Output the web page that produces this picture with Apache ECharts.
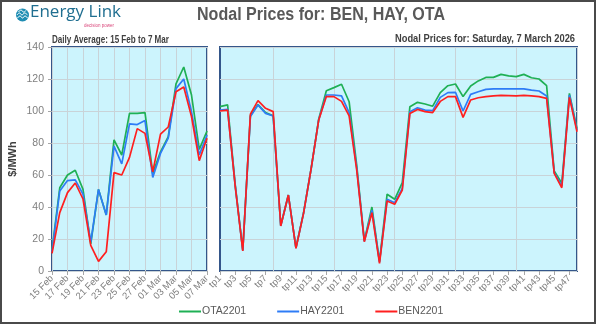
<!DOCTYPE html>
<html><head><meta charset="utf-8">
<script src="https://cdn.jsdelivr.net/npm/echarts@6/dist/echarts.min.js"></script>
<style>html,body{margin:0;padding:0;background:#fff}#c{width:600px;height:326px}</style>
</head><body><div id="c"></div>
<script>
const days = ['15 Feb','16 Feb','17 Feb','18 Feb','19 Feb','20 Feb','21 Feb','22 Feb','23 Feb','24 Feb','25 Feb','26 Feb','27 Feb','28 Feb','01 Mar','02 Mar','03 Mar','04 Mar','05 Mar','06 Mar','07 Mar'];
const dailyOTA = [13, 52, 60, 63, 51, 17, 51, 35, 82, 72.5, 98.5, 98.5, 99, 61, 74.5, 84, 117, 127.5, 110, 76, 87.5];
const dailyHAY = [12, 50, 56.5, 57, 48, 18, 51, 35, 78, 67, 92, 91.5, 94, 58.5, 73.5, 83, 114, 120, 99.5, 72.5, 85];
const dailyBEN = [11, 36.5, 49, 55, 45, 16, 6, 12, 61.5, 60, 71, 89, 86, 62, 85.5, 90, 112, 115, 96.5, 69, 83];

const periods = ['tp1','tp2','tp3','tp4','tp5','tp6','tp7','tp8','tp9','tp10','tp11','tp12','tp13','tp14','tp15','tp16','tp17','tp18','tp19','tp20','tp21','tp22','tp23','tp24','tp25','tp26','tp27','tp28','tp29','tp30','tp31','tp32','tp33','tp34','tp35','tp36','tp37','tp38','tp39','tp40','tp41','tp42','tp43','tp44','tp45','tp46','tp47','tp48'];
const tpOTA = [102.7, 103.8, 54, 13, 97, 104, 99, 97, 28.5, 47.5, 14.5, 36.5, 64, 95, 112.7, 114.6, 116.7, 105.8, 66, 19, 40, 6, 48, 44.8, 55.2, 102.7, 105.4, 104.4, 103, 111.5, 115.8, 116.9, 109, 115.6, 118.8, 121, 121, 122.9, 122, 121.5, 122.9, 120.8, 120, 115.8, 62.5, 54.8, 111, 89];
const tpHAY = [100.6, 101, 53.5, 12.8, 96.5, 103.8, 98.5, 96.9, 28.3, 47.5, 14.3, 36.2, 64, 94.6, 110, 110, 109.4, 99, 64.5, 18.5, 38, 5.5, 44.8, 42.7, 51.7, 99.6, 102, 100.6, 100.2, 108.5, 111.5, 111.7, 100, 110.4, 112, 113.5, 113.8, 113.8, 113.8, 113.8, 113.8, 113, 112.5, 109.4, 61.5, 53, 110, 88];
const tpBEN = [100, 100.6, 53, 12.5, 98, 106.5, 101.7, 99.6, 28.1, 47.5, 14.2, 36, 64, 94.4, 109, 109, 106, 96.9, 63, 18.3, 36.5, 4.8, 43.8, 41.7, 50.6, 98.5, 101, 99.6, 99, 106, 109, 109, 96, 106.9, 108.3, 109, 109.4, 109.8, 109.6, 109.4, 109.8, 109.4, 109, 107.9, 61, 52, 108.5, 87];

const seriesNames = ['OTA2201','HAY2201','BEN2201'];
const colors = ['#1fb055','#2e7cf6','#ff1f1f'];

const FONT = "'Liberation Sans', Arial, sans-serif";
const gridStyle = {show:true, backgroundColor:'#ccf4fd', borderColor:'#34568a', borderWidth:2};

// condensed text helper: scale horizontally to a target width
const mctx = document.createElement('canvas').getContext('2d');
function fitText(text, x, y, size, targetW, color, align){
  const font = 'bold ' + size + 'px ' + FONT;
  mctx.font = font;
  const w = mctx.measureText(text).width;
  const s = targetW / w;
  return {type:'text', x:x, y:y, scaleX:s, originX:0, z:50,
    style:{text:text, font:font, fill:color, textAlign:align || 'left', textVerticalAlign:'top'}};
}

function xAxis(idx, data, splitInt){
  return {type:'category', gridIndex:idx, data:data, boundaryGap:false,
    axisLine:{show:false},
    axisTick:{show:true, interval:1, length:4, lineStyle:{color:'#a6a6a6'}},
    axisLabel:{interval:1, rotate:45, fontSize:9.5, color:'#7f7f7f', fontFamily:FONT, margin:6},
    splitLine:{show:true, interval:splitInt, lineStyle:{color:'#c9d3d8', width:1}}};
}
function yAxis(idx, labels){
  return {type:'value', gridIndex:idx, min:0, max:140, interval:20,
    axisLine:{show:false},
    axisTick:{show:labels, length:4, lineStyle:{color:'#a6a6a6'}},
    axisLabel:{show:labels, fontSize:10.5, color:'#7f7f7f', fontFamily:FONT, margin:8},
    splitLine:{show:true, lineStyle:{color:'#c9d3d8', width:1}},
    name: labels ? '$/MWh' : '', nameLocation:'middle', nameGap:34,
    nameTextStyle:{fontSize:11, fontWeight:'bold', color:'#404040', fontFamily:FONT}};
}
const series = [];
[[dailyOTA,dailyHAY,dailyBEN],[tpOTA,tpHAY,tpBEN]].forEach((set, gi) => {
  set.forEach((d, i) => {
    series.push({name:seriesNames[i], type:'line', xAxisIndex:gi, yAxisIndex:gi, data:d,
      symbol:'none', lineStyle:{width:1.7, color:colors[i]}, itemStyle:{color:colors[i]}, animation:false});
  });
});

const chart = echarts.init(document.getElementById('c'), null, {renderer:'canvas'});
chart.setOption({
  backgroundColor:'#ffffff',
  animation:false,
  legend:{data:seriesNames, left:174, top:301, itemWidth:22, itemHeight:2, itemGap:31, icon:'rect',
    textStyle:{fontSize:10.5, color:'#595959', fontFamily:FONT, padding:[0,0,0,-4]}},
  grid:[
    Object.assign({left:52, top:47, width:155, height:224}, gridStyle),
    Object.assign({left:220, top:47, width:357, height:224}, gridStyle)
  ],
  xAxis:[xAxis(0, days, 1), xAxis(1, periods, function(i){return i % 8 === 7;})],
  yAxis:[yAxis(0, true), yAxis(1, false)],
  series: series,
  graphic:[
    {type:'rect', shape:{x:1, y:1, width:594, height:322}, style:{fill:null, stroke:'#4a4a4a', lineWidth:2}, z:100},
    fitText('Nodal Prices for: BEN, HAY, OTA', 197, 6, 18, 248, '#595959'),
    fitText('Daily Average: 15 Feb to 7 Mar', 52, 35, 10, 117, '#404040'),
    fitText('Nodal Prices for: Saturday, 7 March 2026', 395, 34, 10, 180, '#404040'),
    {type:'circle', shape:{cx:22.5, cy:15, r:6.5}, style:{fill:'#1f8db3'}},
    {type:'polyline', shape:{points:[[17,15],[19.5,13],[22,15],[24.5,13],[27.5,15]], smooth:0.5}, style:{stroke:'#fff', lineWidth:1, fill:null}},
    {type:'polyline', shape:{points:[[17.5,18],[20,16],[22.5,18],[25,16],[27.5,18]], smooth:0.5}, style:{stroke:'#fff', lineWidth:1, fill:null}},
    {type:'polyline', shape:{points:[[18.5,12],[21,10],[23.5,12],[26,10.5]], smooth:0.5}, style:{stroke:'#fff', lineWidth:1, fill:null}},
    {type:'text', x:30, y:4, style:{text:'Energy Link', fontSize:17, fontFamily:"'Open Sans', sans-serif", fill:'#1f6e90'}},
    {type:'text', x:84, y:23, style:{text:'decision power', fontSize:4.5, fontFamily:FONT, fill:'#d9467a'}}
  ]
});
</script></body></html>
